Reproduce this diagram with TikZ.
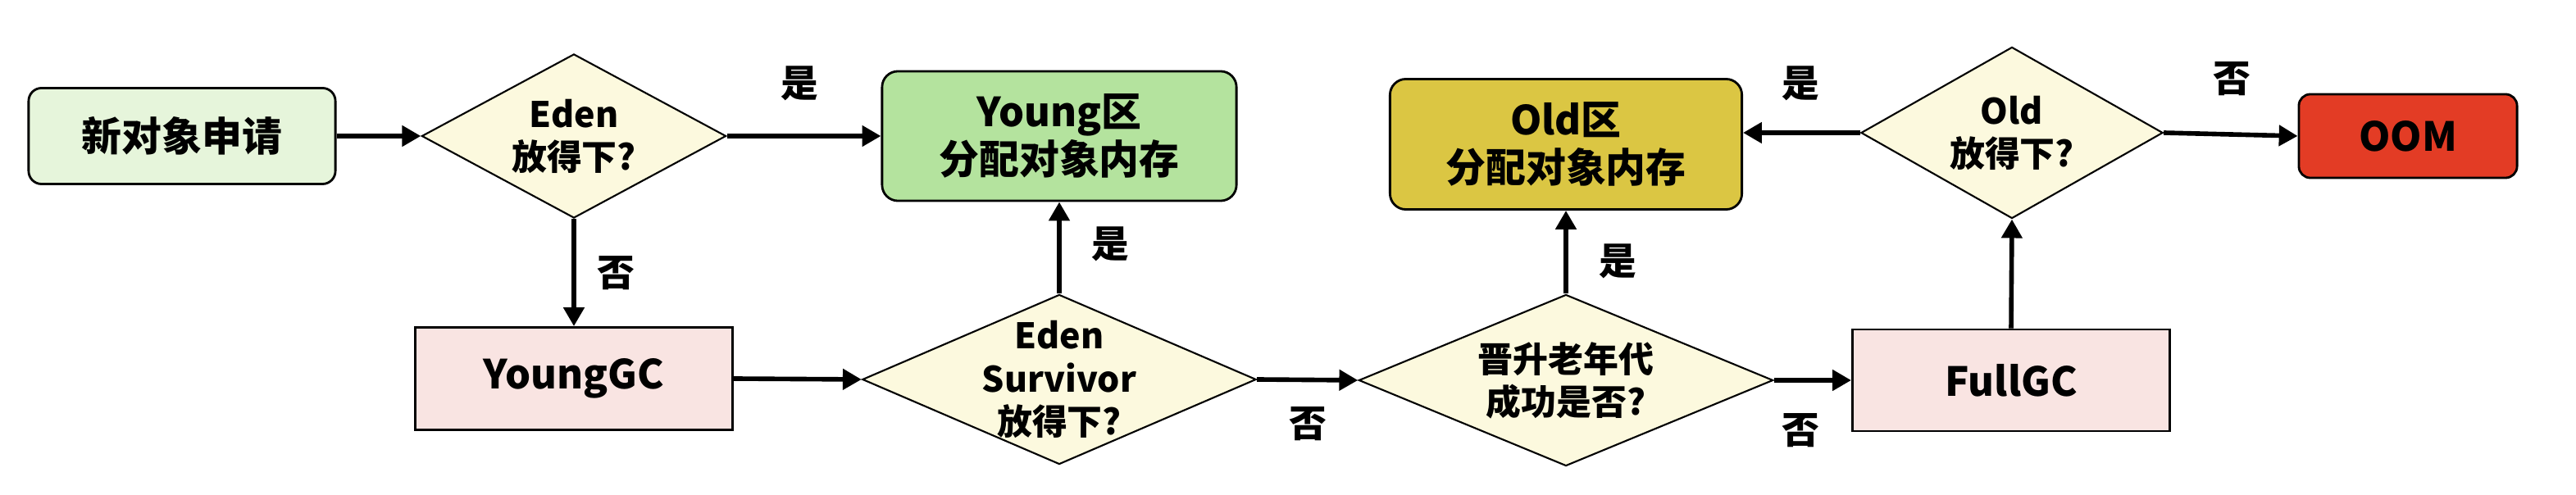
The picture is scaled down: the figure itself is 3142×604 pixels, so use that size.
\documentclass[tikz,border=0pt]{standalone}
\usepackage{fontspec}
\setmainfont{Noto Sans CJK SC}
\usetikzlibrary{shapes.geometric,arrows.meta}
\definecolor{cA}{HTML}{E6F5DB}
\definecolor{cB}{HTML}{B4E39E}
\definecolor{cOld}{HTML}{DBC643}
\definecolor{cOOM}{HTML}{E33C25}
\definecolor{cPink}{HTML}{F9E4E2}
\definecolor{cDia}{HTML}{FCF9DE}
\begin{document}
\begin{tikzpicture}[x=0.01cm,y=-0.01cm,
  boxtext/.style={font=\fontsize{13.9}{16.5}\selectfont\bfseries},
  rbox/.style={draw=black, line width=0.8pt, rounded corners=4.5pt, align=center, inner sep=0pt, boxtext},
  sbox/.style={draw=black, line width=0.8pt, fill=cPink, align=center, inner sep=0pt, boxtext},
  dia/.style={diamond, draw=black, line width=0.6pt, fill=cDia, inner sep=0pt},
  dtext/.style={align=center, inner sep=0pt, font=\fontsize{12.2}{14.8}\selectfont\bfseries},
  lab/.style={inner sep=0pt, font=\fontsize{13}{13}\selectfont\bfseries},
  arr/.style={line width=1.6pt, -{Triangle[length=6.5pt,width=7pt]}}
]
\useasboundingbox (0,0) rectangle (3142,604);

% nodes
\node[rbox, fill=cA, minimum width=3.74cm, minimum height=1.17cm] (A) at (222,166) {新对象申请};
\node[dia, minimum width=3.71cm, minimum height=2.00cm,
      label={[dtext]center:{Eden\\放得下?}}] (D1) at (700,166) {};
\node[rbox, fill=cB, rounded corners=5.5pt, minimum width=4.32cm, minimum height=1.58cm] (B) at (1292,166) {Young区\\分配对象内存};
\node[sbox, minimum width=3.87cm, minimum height=1.25cm] (YG) at (700,462) {YoungGC};
\node[dia, minimum width=4.80cm, minimum height=2.07cm,
      label={[dtext]center:{Eden\\Survivor\\放得下?}}] (D2) at (1292,463) {};
\node[rbox, fill=cOld, rounded corners=5.5pt, minimum width=4.29cm, minimum height=1.59cm] (Old) at (1910,176) {Old区\\分配对象内存};
\node[dia, minimum width=5.05cm, minimum height=2.09cm,
      label={[dtext]center:{晋升老年代\\成功是否?}}] (D3) at (1910,464) {};
\node[sbox, minimum width=3.87cm, minimum height=1.24cm] (FG) at (2453,464) {FullGC};
\node[dia, minimum width=3.68cm, minimum height=2.09cm,
      label={[dtext]center:{Old\\放得下?}}] (D4) at (2454,162) {};
\node[rbox, fill=cOOM, rounded corners=4pt, minimum width=2.66cm, minimum height=1.02cm] (OOM) at (2937,166) {OOM};

% connectors
\draw[arr] (A.east) -- (D1.west);
\draw[arr] (D1.east) -- (B.west);
\draw[arr] (D1.south) -- (YG.north);
\draw[arr] (YG.east) -- (D2.west);
\draw[arr] (D2.north) -- (B.south);
\draw[arr] (D2.east) -- (D3.west);
\draw[arr] (D3.north) -- (Old.south);
\draw[arr] (D3.east) -- (FG.west);
\draw[arr] (FG.north) -- (D4.south);
\draw[arr] (D4.west) -- (D4.west -| Old.east);
\draw[arr] (D4.east) -- (OOM.west);

% labels
\node[lab] (l1) at (975,102) {是};
\node[lab] (l2) at (751,333) {否};
\node[lab] (l3) at (1354,298) {是};
\node[lab] (l4) at (1595,517) {否};
\node[lab] (l5) at (1973,319) {是};
\node[lab] (l6) at (2196,525) {否};
\node[lab] (l7) at (2196,102) {是};
\node[lab] (l8) at (2722,96) {否};
\end{tikzpicture}
\end{document}
